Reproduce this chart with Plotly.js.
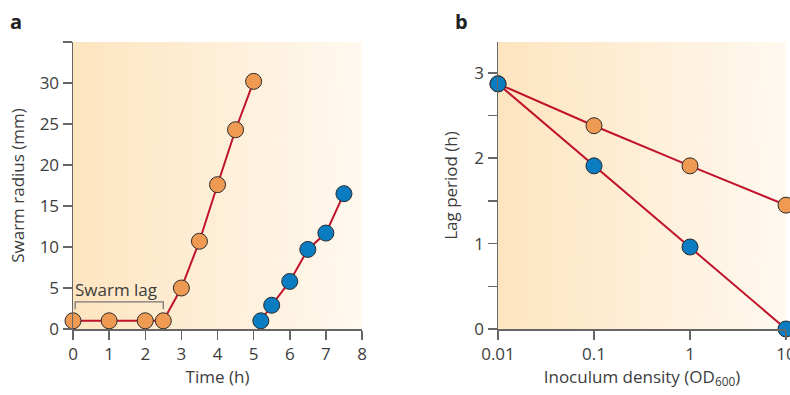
<!DOCTYPE html>
<html>
<head>
<meta charset="utf-8">
<script src="https://cdn.plot.ly/plotly-3.0.1.min.js"></script>
<style>html,body{margin:0;padding:0;background:#fff;}#chart{width:790px;height:395px;}</style>
</head>
<body>
<div id="chart"></div>
<script>
// Panel a: swarm radius over time
const timeOrange = [0, 1, 2, 2.5, 3, 3.5, 4, 4.5, 5];
const radiusOrange = [1, 1, 1, 1, 5, 10.7, 17.6, 24.3, 30.2];
const timeBlue = [5.2, 5.5, 6, 6.5, 7, 7.5];
const radiusBlue = [1, 2.9, 5.8, 9.7, 11.7, 16.5];
const lagStart = 0, lagEnd = 2.5, lagLabel = "Swarm lag";

// Panel b: lag period vs inoculum density
const densityOrange = [0.01, 0.1, 1, 10];
const lagOrange = [2.87, 2.38, 1.91, 1.45];
const densityBlue = [0.01, 0.1, 1, 10];
const lagBlue = [2.87, 1.91, 0.96, 0.0];

const xTicksA = [0, 1, 2, 3, 4, 5, 6, 7, 8];
const yTicksA = [0, 5, 10, 15, 20, 25, 30, 35];
const yTickTextA = ["0", "5", "10", "15", "20", "25", "30", ""];
const xTicksB = [0.01, 0.1, 1, 10];
const xTickTextB = ["0.01", "0.1", "1", "10"];
const yTicksB = [0, 0.5, 1, 1.5, 2, 2.5, 3];
const yTickTextB = ["0", "", "1", "", "2", "", "3"];

const ORANGE = "#EE9A52", BLUE = "#0A7CC1", RED = "#C0142C", EDGE = "#2b2b2b";
const AXIS = "#666", TEXT = "#3d3d3d";
const FONT = "'Open Sans', Lato, sans-serif";

function gradientURL() {
  const c = document.createElement("canvas");
  c.width = 400; c.height = 10;
  const g = c.getContext("2d");
  const lg = g.createLinearGradient(0, 0, 400, 0);
  lg.addColorStop(0, "#FEE5C0");
  lg.addColorStop(1, "#FFF9F0");
  g.fillStyle = lg; g.fillRect(0, 0, 400, 10);
  return c.toDataURL();
}
const bg = gradientURL();

function series(x, y, color, xa, ya) {
  return {
    x: x, y: y, xaxis: xa, yaxis: ya, type: "scatter", mode: "lines+markers",
    line: {color: RED, width: 2},
    marker: {color: color, size: 16, line: {color: EDGE, width: 1}},
    cliponaxis: false, hoverinfo: "skip", showlegend: false
  };
}

const data = [
  series(timeOrange, radiusOrange, ORANGE, "x", "y"),
  series(timeBlue, radiusBlue, BLUE, "x", "y"),
  series(densityOrange, lagOrange, ORANGE, "x2", "y2"),
  series(densityBlue, lagBlue, BLUE, "x2", "y2")
];

const axisCommon = {
  showgrid: false, zeroline: false, showline: true, linecolor: AXIS, linewidth: 1.5,
  ticks: "outside", ticklen: 9, tickwidth: 1.5, tickcolor: AXIS,
  tickfont: {family: FONT, size: 17, color: TEXT}, fixedrange: true,
  ticklabeloverflow: "allow"
};
const titleFont = {family: FONT, size: 17, color: TEXT};

const W = 790, H = 395;
const layout = {
  width: W, height: H,
  margin: {l: 0, r: 0, t: 0, b: 0},
  paper_bgcolor: "#fff", plot_bgcolor: "rgba(0,0,0,0)",
  font: {family: FONT, color: TEXT},
  xaxis: Object.assign({}, axisCommon, {
    domain: [73 / W, 362 / W], range: [0, 8], tickmode: "array", tickvals: xTicksA,
    anchor: "y",
    title: {text: "Time (h)", font: titleFont, standoff: 2}
  }),
  yaxis: Object.assign({}, axisCommon, {
    domain: [(H - 329) / H, (H - 42) / H], range: [0, 35], tickmode: "array",
    tickvals: yTicksA, ticktext: yTickTextA, anchor: "x",
    title: {text: "Swarm radius (mm)", font: titleFont, standoff: 10}
  }),
  xaxis2: Object.assign({}, axisCommon, {
    domain: [498 / W, 786 / W], type: "log", range: [-2, 1], tickmode: "array",
    tickvals: xTicksB, ticktext: xTickTextB, anchor: "y2",
    title: {text: "Inoculum density (OD<sub>600</sub>)", font: titleFont, standoff: 2}
  }),
  yaxis2: Object.assign({}, axisCommon, {
    domain: [(H - 329) / H, (H - 42) / H], range: [0, 3.36], tickmode: "array",
    tickvals: yTicksB, ticktext: yTickTextB, anchor: "x2",
    title: {text: "Lag period (h)", font: titleFont, standoff: 12}
  }),
  images: [
    {source: bg, xref: "x domain", yref: "y domain", x: 0, y: 1, sizex: 1, sizey: 1,
     sizing: "stretch", layer: "below", xanchor: "left", yanchor: "top"},
    {source: bg, xref: "x2 domain", yref: "y2 domain", x: 0, y: 1, sizex: 1, sizey: 1,
     sizing: "stretch", layer: "below", xanchor: "left", yanchor: "top"}
  ],
  shapes: [
    {type: "path", xref: "x", yref: "y", layer: "above",
     path: `M ${lagStart + 0.06},2.4 L ${lagStart + 0.06},3.3 L ${lagEnd},3.3 L ${lagEnd},2.4`,
     line: {color: "#777", width: 1.3}}
  ],
  annotations: [
    {text: lagLabel, xref: "x", yref: "y", x: lagStart + 0.06, y: 3.3, xanchor: "left", yanchor: "bottom",
     showarrow: false, font: {family: FONT, size: 17, color: TEXT}, yshift: -1, xshift: -2},
    {text: "<b>a</b>", xref: "paper", yref: "paper", x: 8 / W, y: 1 - 6 / H, xanchor: "left", yanchor: "top",
     showarrow: false, font: {family: FONT, size: 20, color: "#222"}},
    {text: "<b>b</b>", xref: "paper", yref: "paper", x: 453 / W, y: 1 - 6 / H, xanchor: "left", yanchor: "top",
     showarrow: false, font: {family: FONT, size: 20, color: "#222"}}
  ]
};

Plotly.newPlot("chart", data, layout, {displayModeBar: false, staticPlot: true});
</script>
</body>
</html>
